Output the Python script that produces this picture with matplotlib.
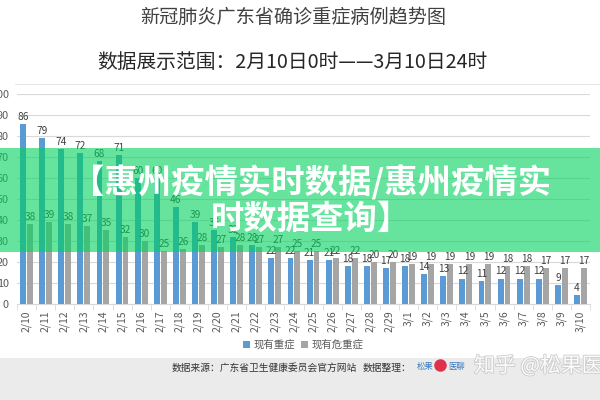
import matplotlib
matplotlib.use('Agg')
import matplotlib.pyplot as plt
import numpy as np
from matplotlib.patches import Rectangle, Patch
import matplotlib.patheffects as pe

plt.rcParams['font.family'] = ['Noto Sans CJK SC', 'DejaVu Sans']

dates = ['2/10', '2/11', '2/12', '2/13', '2/14', '2/15', '2/16', '2/17', '2/18', '2/19',
         '2/20', '2/21', '2/22', '2/23', '2/24', '2/25', '2/26', '2/27', '2/28', '2/29',
         '3/1', '3/2', '3/3', '3/4', '3/5', '3/6', '3/7', '3/8', '3/9', '3/10']
severe = [86, 79, 74, 72, 68, 71, 60, 60, 46, 39,
          35, 32, 28, 22, 22, 21, 21, 18, 18, 17,
          18, 14, 13, 12, 11, 12, 12, 12, 9, 4]
critical = [38, 39, 38, 37, 35, 32, 30, 25, 26, 28,
            27, 28, 27, 27, 25, 25, 22, 22, 20, 20,
            19, 19, 19, 19, 19, 18, 18, 17, 17, 17]
series_names = ['现有重症', '现有危重症']
title = '新冠肺炎广东省确诊重症病例趋势图'
subtitle = '数据展示范围：2月10日0时——3月10日24时'
banner1 = '【惠州疫情实时数据/惠州疫情实'
banner2 = '时数据查询】'

BLUE = '#5b9bd5'
GRAY = '#a5a5a5'

fig = plt.figure(figsize=(6, 4), dpi=100)
fig.patch.set_facecolor('white')


def fx(px):
    return px / 600


def fy(py):
    return 1 - py / 400


# footer band
fig.add_artist(Rectangle((0, 0), 1, fy(358), transform=fig.transFigure,
                         facecolor='#ebebeb', edgecolor='none', zorder=-5))
# thin top border line of chart area
fig.add_artist(plt.Line2D([fx(15), fx(600)], [fy(84), fy(84)], transform=fig.transFigure,
                          color='#e6e6e6', lw=0.8, zorder=-4))

ax = fig.add_axes([fx(17), fy(303.7), fx(590) - fx(17), fy(94.3) - fy(303.7)])
ax.set_facecolor('none')
x = np.arange(len(dates))
w = 0.31
off = 0.18
ax.bar(x - off, severe, w, color=BLUE, zorder=3)
ax.bar(x + off, critical, w, color=GRAY, zorder=3)
for xi, v in zip(x, severe):
    ax.text(xi - off, v + 1.0, str(v), ha='center', va='bottom', fontsize=7.3, color='#404040')
for xi, v in zip(x, critical):
    ax.text(xi + off, v + 1.0, str(v), ha='center', va='bottom', fontsize=7.3, color='#404040')

ax.set_xlim(-0.5, len(dates) - 0.5)
ax.set_ylim(0, 100)
ax.set_yticks(range(0, 101, 10))
ax.grid(axis='y', color='#d9d9d9', lw=0.8, zorder=0)
ax.set_axisbelow(True)
for s in ['top', 'right', 'left']:
    ax.spines[s].set_visible(False)
ax.spines['bottom'].set_color('#d9d9d9')
ax.set_xticks(x)
ax.set_xticklabels(dates, rotation=90, fontsize=7.5, color='#595959')
ax.set_xticks(np.arange(-0.5, len(dates), 1), minor=True)
ax.tick_params(axis='x', which='major', length=0, pad=5)
ax.tick_params(axis='x', which='minor', length=4, color='#d9d9d9')
ax.tick_params(axis='y', length=0, pad=6, labelsize=7.8, labelcolor='#595959')

# titles
fig.text(fx(293), fy(17), title, ha='center', va='center', fontsize=13.8, color='#404040')
fig.text(fx(292), fy(62), subtitle, ha='center', va='center', fontsize=14.2, color='#262626')

# legend
handles = [Patch(facecolor=BLUE), Patch(facecolor=GRAY)]
fig.legend(handles, series_names, loc='center', bbox_to_anchor=(fx(303), fy(345)), ncol=2,
           frameon=False, fontsize=7.5, handlelength=0.7, handleheight=0.7,
           columnspacing=0.6, handletextpad=0.3, labelcolor='#595959')

# banner overlay
fig.add_artist(Rectangle((0, fy(252)), 1, fy(148) - fy(252), transform=fig.transFigure,
                         facecolor=(0.0, 0.82, 0.36), alpha=0.6, edgecolor='none', zorder=10))
fig.text(fx(311), fy(183), banner1, ha='center', va='center', fontsize=24, fontweight='bold',
         color='white', zorder=11)
fig.text(fx(311), fy(219), banner2, ha='center', va='center', fontsize=24, fontweight='bold',
         color='white', zorder=11)

# footer texts
fig.text(fx(172), fy(368), '数据来源：广东省卫生健康委员会官方网站', ha='left', va='center',
         fontsize=7, color='#333333')
fig.text(fx(363), fy(368), '数据整理：', ha='left', va='center', fontsize=7, color='#333333')
fig.text(fx(417), fy(366), '松果', ha='left', va='center', fontsize=6, color='#3a7bbf')
fig.add_artist(plt.Line2D([fx(440)], [fy(365)], marker='o', markersize=8, color='#e0304a',
                          transform=fig.transFigure))
fig.text(fx(448), fy(366), '医聊', ha='left', va='center', fontsize=6, color='#3a7bbf')
fig.text(fx(474), fy(366), '知乎 @松果医', ha='left', va='center', fontsize=15, color='white',
         alpha=0.95, path_effects=[pe.withStroke(linewidth=1.2, foreground='#c8c8c8')])

fig.savefig('out.png', dpi=100)
